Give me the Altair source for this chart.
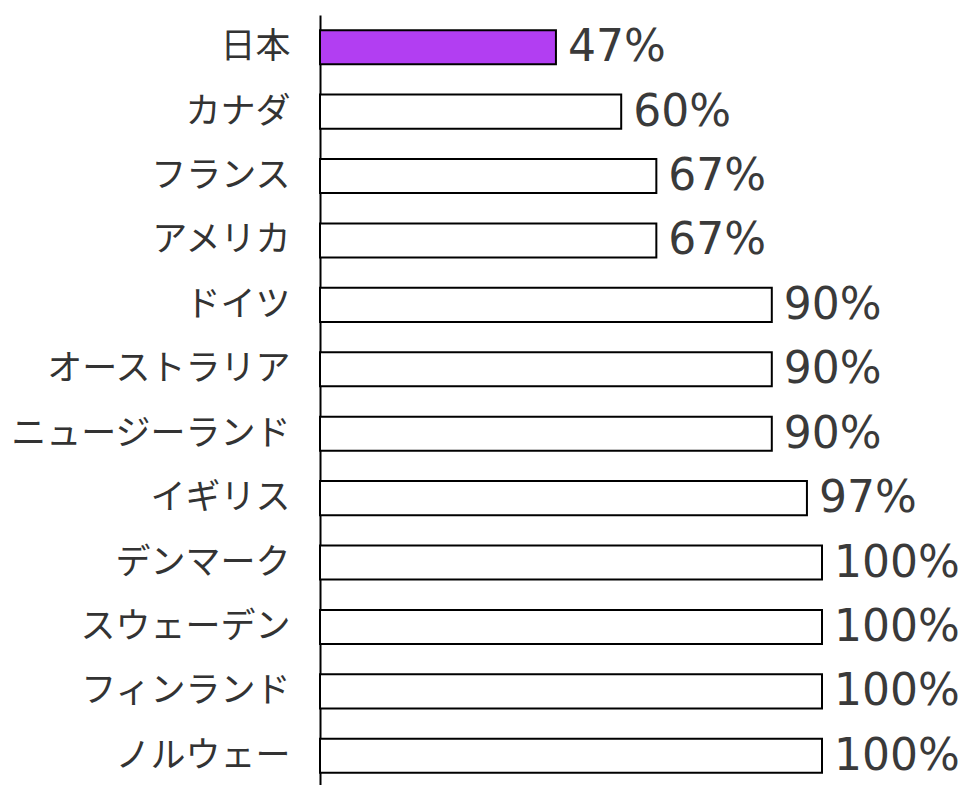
import altair as alt
import pandas as pd

countries = ["日本", "カナダ", "フランス", "アメリカ", "ドイツ", "オーストラリア",
             "ニュージーランド", "イギリス", "デンマーク", "スウェーデン", "フィンランド", "ノルウェー"]
values = [47, 60, 67, 67, 90, 90, 90, 97, 100, 100, 100, 100]
highlight = ["日本"]

df = pd.DataFrame({"country": countries, "value": values})
df["hl"] = df["country"].isin(highlight)

y = alt.Y("country:N", sort=countries,
          scale=alt.Scale(paddingInner=0.47, paddingOuter=0.235),
          axis=alt.Axis(title=None, ticks=False, domainColor="#000000", domainWidth=2,
                        labelFont="Noto Sans CJK JP", labelFontSize=35, labelColor="#333333",
                        labelPadding=30, labelLimit=400, grid=False))
x = alt.X("value:Q", scale=alt.Scale(domain=[0, 100]), axis=None)

bars = alt.Chart(df).mark_bar(stroke="#000000", strokeWidth=2).encode(
    y=y, x=x,
    fill=alt.condition("datum.hl", alt.value("#B23EF2"), alt.value("#FFFFFF")),
)

labels = alt.Chart(df).transform_calculate(lab="datum.value + '%'").mark_text(
    align="left", baseline="middle", dx=12, dy=1, font="DejaVu Sans", fontSize=44, color="#3a3a3a"
).encode(y=alt.Y("country:N", sort=countries), x=x, text="lab:N")

chart = (bars + labels).properties(
    width=502, height=773,
    background="#FFFFFF",
    autosize=alt.AutoSizeParams(type="none"),
    padding={"left": 312, "top": 7, "right": 142, "bottom": 0},
).configure_view(stroke=None, strokeWidth=0)

chart.save("out.html", embed_options={"renderer": "svg", "actions": False})
